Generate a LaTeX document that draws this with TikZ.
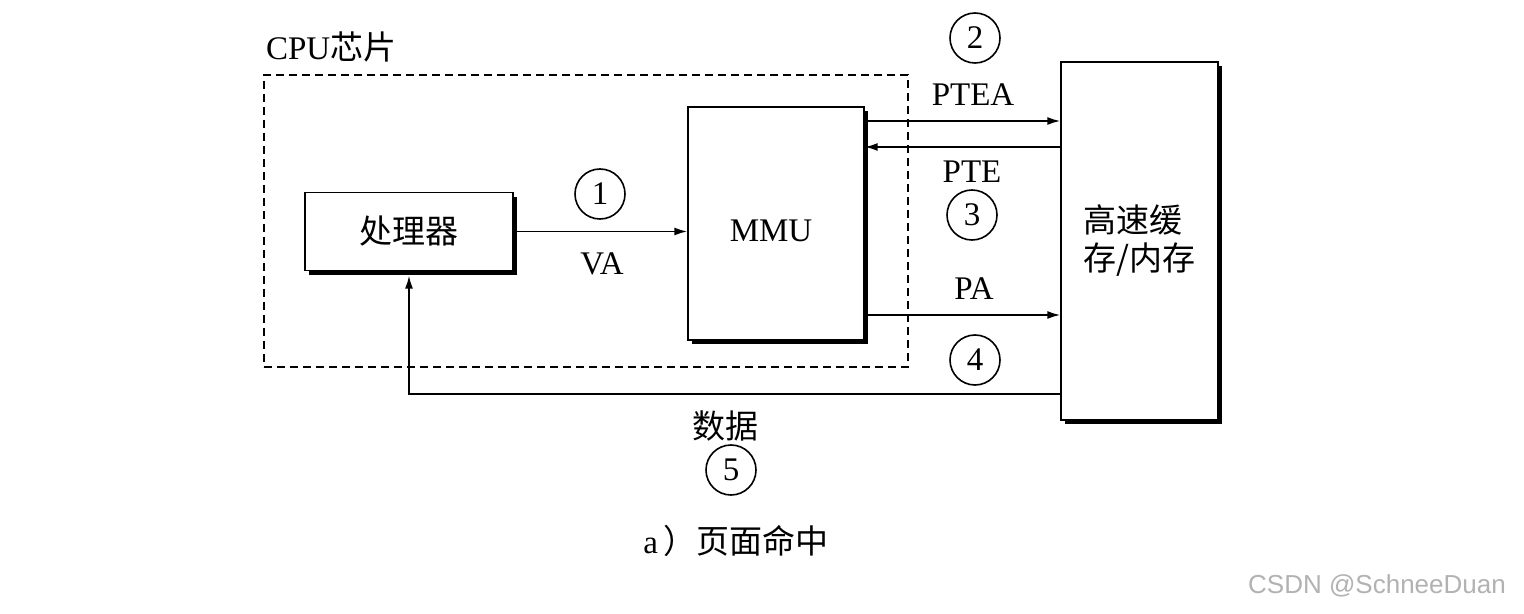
\documentclass[tikz,border=0pt]{standalone}
\usepackage{fontspec}
\setmainfont{Liberation Serif}
\setsansfont{Liberation Sans}
\newfontfamily\cjk{Noto Sans CJK SC}
\usetikzlibrary{arrows.meta,shadows}

\begin{document}
\begin{tikzpicture}[x=0.5pt,y=-0.5pt,
        font=\fontsize{16.5}{19}\selectfont,
        >={Latex[length=6.5pt,width=4pt]},
        box/.style={draw,fill=white,line width=0.7pt,inner sep=0pt,
            general shadow={fill=black,shadow xshift=2.2pt,shadow yshift=-2.2pt}},
        num/.style={draw,circle,line width=0.8pt,minimum size=25pt,inner sep=0pt},
        link/.style={line width=0.9pt}]
        \useasboundingbox[fill=white] (0,0) rectangle (1524,614);
        % CPU chip
        \node[draw,line width=0.9pt,dash pattern=on 4pt off 2.5pt,
            minimum width=322pt,minimum height=146pt] (chip) at (586,221) {};
        \node[anchor=west] (chiptext) at (259,47) {CPU\cjk 芯片};
        \node[box,minimum width=104pt,minimum height=39pt] (proc) at (409,231.5) {\cjk 处理器};
        \node[box,minimum width=88pt,minimum height=116.5pt] (mmu) at (776,223.5) {};
        \node (mmutext) at (771,231) {MMU};
        \node[box,minimum width=78.5pt,minimum height=179pt,align=left] (mem) at (1139.5,241) {\cjk 高速缓\\\cjk 存/内存};
        % steps
        \draw[link,->] (proc.east) -- (proc.east -| mmu.west);
        \node[num] (n1) at (600,194) {1};
        \node (va) at (602,264) {VA};
        \draw[link,->] (mmu.east |- 0,121) -- (mem.west |- 0,121);
        \node[num] (n2) at (975,38) {2};
        \node (ptea) at (973,95) {PTEA};
        \draw[link,->] (mem.west |- 0,147) -- (mmu.east |- 0,147);
        \node (pte) at (972,172) {PTE};
        \node[num] (n3) at (972,215) {3};
        \draw[link,->] (mmu.east |- 0,315) -- (mem.west |- 0,315);
        \node (pa) at (974,289) {PA};
        \node[num] (n4) at (975,360) {4};
        \draw[link,->] (mem.west |- 0,394) -| ([yshift=-2.2pt]proc.south);
        \node (data) at (725,426) {\cjk 数据};
        \node[num] (n5) at (731,470) {5};
        \node (caption) at (736,541) {a\,\cjk ）页面命中};
        \node[text=black!30,font=\fontsize{13}{15}\selectfont\sffamily] (mark) at (1377,586) {CSDN @SchneeDuan};
    \end{tikzpicture}
\end{document}
